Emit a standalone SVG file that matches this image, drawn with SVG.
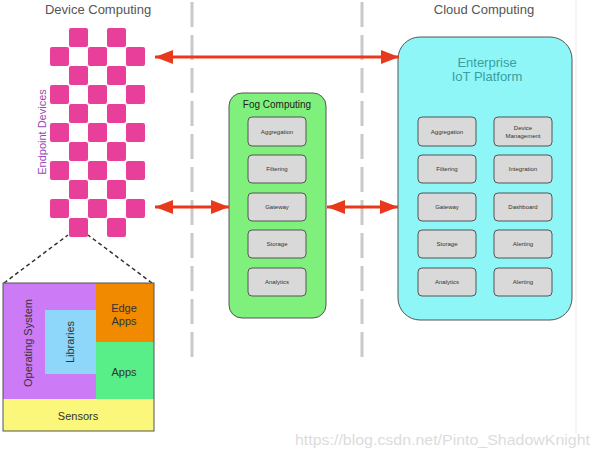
<svg xmlns="http://www.w3.org/2000/svg" width="600" height="458" viewBox="0 0 600 458">
<style>
text{font-family:"Liberation Sans",Arial,sans-serif;}
.title{font-size:13px;fill:#555;text-anchor:middle;}
.sq{fill:#e8409a;}
.arrow{stroke:#e8391c;stroke-width:3;fill:none;}
.divider{stroke:#c9c9c9;stroke-width:3;stroke-dasharray:25 8;}
.inner{fill:#d9d9d9;stroke:#555;stroke-width:1;}
.lbl{font-size:6px;fill:#333;text-anchor:middle;}
.stk{font-size:11px;fill:#333;text-anchor:middle;}
</style>
<defs>
<marker id="ah" markerUnits="userSpaceOnUse" markerWidth="18" markerHeight="14" refX="18" refY="7" orient="auto-start-reverse">
<path d="M0,0 L18,7 L0,14 z" fill="#e8391c"/>
</marker>
</defs>
<rect width="600" height="458" fill="#fff"/>
<line x1="576" y1="0" x2="576" y2="434" stroke="#ececec" stroke-width="1"/>
<g id="dividers">
<line class="divider" x1="192" y1="2" x2="192" y2="357"/>
<line class="divider" x1="362" y1="2" x2="362" y2="357"/>
</g>
<text class="title" x="98" y="14">Device Computing</text>
<text class="title" x="484" y="14">Cloud Computing</text>
<g id="endpoint-devices">
<rect class="sq" x="69" y="28" width="19" height="19" rx="2"/><rect class="sq" x="107" y="28" width="19" height="19" rx="2"/>
<rect class="sq" x="50" y="47" width="19" height="19" rx="2"/><rect class="sq" x="88" y="47" width="19" height="19" rx="2"/><rect class="sq" x="126" y="47" width="19" height="19" rx="2"/>
<rect class="sq" x="69" y="66" width="19" height="19" rx="2"/><rect class="sq" x="107" y="66" width="19" height="19" rx="2"/>
<rect class="sq" x="50" y="85" width="19" height="19" rx="2"/><rect class="sq" x="88" y="85" width="19" height="19" rx="2"/><rect class="sq" x="126" y="85" width="19" height="19" rx="2"/>
<rect class="sq" x="69" y="104" width="19" height="19" rx="2"/><rect class="sq" x="107" y="104" width="19" height="19" rx="2"/>
<rect class="sq" x="50" y="123" width="19" height="19" rx="2"/><rect class="sq" x="88" y="123" width="19" height="19" rx="2"/><rect class="sq" x="126" y="123" width="19" height="19" rx="2"/>
<rect class="sq" x="69" y="142" width="19" height="19" rx="2"/><rect class="sq" x="107" y="142" width="19" height="19" rx="2"/>
<rect class="sq" x="50" y="161" width="19" height="19" rx="2"/><rect class="sq" x="88" y="161" width="19" height="19" rx="2"/><rect class="sq" x="126" y="161" width="19" height="19" rx="2"/>
<rect class="sq" x="69" y="180" width="19" height="19" rx="2"/><rect class="sq" x="107" y="180" width="19" height="19" rx="2"/>
<rect class="sq" x="50" y="199" width="19" height="19" rx="2"/><rect class="sq" x="88" y="199" width="19" height="19" rx="2"/><rect class="sq" x="126" y="199" width="19" height="19" rx="2"/>
<rect class="sq" x="69" y="218" width="19" height="19" rx="2"/><rect class="sq" x="107" y="218" width="19" height="19" rx="2"/>
<text x="46" y="132" transform="rotate(-90 46 132)" font-size="11" fill="#9b45b8" text-anchor="middle">Endpoint Devices</text>
</g>
<g id="zoom-lines">
<line x1="4" y1="283" x2="68" y2="235" stroke="#333" stroke-width="1.5" stroke-dasharray="4 3"/>
<line x1="152" y1="283" x2="88" y2="235" stroke="#333" stroke-width="1.5" stroke-dasharray="4 3"/>
</g>
<g id="device-stack">
<rect x="3" y="283" width="93" height="116" fill="#cc7af5"/>
<rect x="96" y="283" width="58" height="59" fill="#f28a00"/>
<rect x="96" y="342" width="58" height="57" fill="#58ee88"/>
<rect x="45" y="310" width="51" height="64" fill="#8ed6fa"/>
<rect x="3" y="399" width="151" height="32" fill="#faf77a"/>
<rect x="3" y="283" width="151" height="148" fill="none" stroke="#555" stroke-width="1"/>
<text class="stk" x="32" y="343" transform="rotate(-90 32 343)">Operating System</text>
<text class="stk" x="74" y="342" transform="rotate(-90 74 342)">Libraries</text>
<text class="stk" x="124" y="312">Edge</text>
<text class="stk" x="124" y="325">Apps</text>
<text class="stk" x="124" y="376">Apps</text>
<text class="stk" x="78" y="420">Sensors</text>
</g>
<g id="fog-computing">
<rect x="229" y="93" width="97" height="225" rx="13" fill="#80f07c" stroke="#555" stroke-width="1"/>
<text x="277" y="108" font-size="10" fill="#222" text-anchor="middle">Fog Computing</text>
<rect class="inner" x="248" y="117" width="58" height="29" rx="4"/><text class="lbl" x="277" y="134">Aggregation</text>
<rect class="inner" x="248" y="155" width="58" height="28" rx="4"/><text class="lbl" x="277" y="171">Filtering</text>
<rect class="inner" x="248" y="193" width="58" height="28" rx="4"/><text class="lbl" x="277" y="209">Gateway</text>
<rect class="inner" x="248" y="230" width="58" height="28" rx="4"/><text class="lbl" x="277" y="246">Storage</text>
<rect class="inner" x="248" y="268" width="58" height="28" rx="4"/><text class="lbl" x="277" y="284">Analytics</text>
</g>
<g id="enterprise-iot-platform">
<rect x="398" y="37" width="174" height="283" rx="22" fill="#8ef6f6" stroke="#555" stroke-width="1"/>
<text x="487" y="67" font-size="13" fill="#3a9ea3" text-anchor="middle">Enterprise</text>
<text x="487" y="81" font-size="13" fill="#3a9ea3" text-anchor="middle">IoT Platform</text>
<rect class="inner" x="418" y="117" width="58" height="29" rx="4"/><text class="lbl" x="447" y="134">Aggregation</text>
<rect class="inner" x="418" y="155" width="58" height="28" rx="4"/><text class="lbl" x="447" y="171">Filtering</text>
<rect class="inner" x="418" y="193" width="58" height="28" rx="4"/><text class="lbl" x="447" y="209">Gateway</text>
<rect class="inner" x="418" y="230" width="58" height="28" rx="4"/><text class="lbl" x="447" y="246">Storage</text>
<rect class="inner" x="418" y="268" width="58" height="28" rx="4"/><text class="lbl" x="447" y="284">Analytics</text>
<rect class="inner" x="494" y="117" width="58" height="29" rx="4"/><text class="lbl" x="523" y="130">Device</text><text class="lbl" x="523" y="138">Management</text>
<rect class="inner" x="494" y="155" width="58" height="28" rx="4"/><text class="lbl" x="523" y="171">Integration</text>
<rect class="inner" x="494" y="193" width="58" height="28" rx="4"/><text class="lbl" x="523" y="209">Dashboard</text>
<rect class="inner" x="494" y="230" width="58" height="28" rx="4"/><text class="lbl" x="523" y="246">Alerting</text>
<rect class="inner" x="494" y="268" width="58" height="28" rx="4"/><text class="lbl" x="523" y="284">Alerting</text>
</g>
<g id="connectors">
<line class="arrow" x1="155" y1="57" x2="399" y2="57" marker-start="url(#ah)" marker-end="url(#ah)"/>
<line class="arrow" x1="155" y1="207" x2="229" y2="207" marker-start="url(#ah)" marker-end="url(#ah)"/>
<line class="arrow" x1="327" y1="207" x2="398" y2="207" marker-start="url(#ah)" marker-end="url(#ah)"/>
</g>
<text x="295" y="445" font-size="15" fill="#dcdcdc" textLength="295" lengthAdjust="spacingAndGlyphs">https://blog.csdn.net/Pinto_ShadowKnight</text>
</svg>
